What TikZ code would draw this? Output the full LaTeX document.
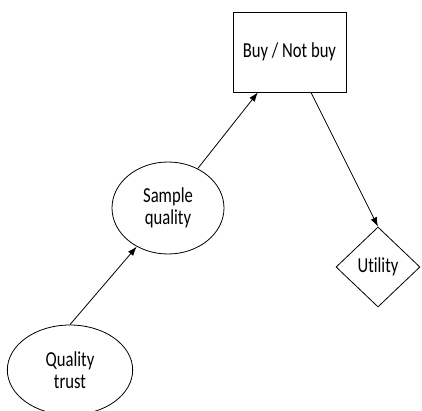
\documentclass[tikz,border=0pt]{standalone}
\usepackage{fontspec}
\setmainfont{Carlito}[FakeStretch=0.78, Ligatures=NoCommon]
\usetikzlibrary{shapes.geometric,arrows.meta}
\begin{document}
\begin{tikzpicture}[x=0.75pt, y=-0.75pt, >={Latex[length=7pt,width=5pt]}, line width=0.6pt, font=\fontsize{16}{16.5}\selectfont]
  \tikzstyle{chance} = [ellipse, draw, text centered, align=center, inner sep=0pt]
  \tikzstyle{decision} = [rectangle, draw, text centered, minimum width=84.75pt, minimum height=60pt]
  \tikzstyle{utility} = [diamond, draw, text centered, inner sep=1pt, minimum width=63pt, minimum height=60pt]

  \useasboundingbox (0,0) rectangle (422,411);

  \node [chance, minimum width=94pt, minimum height=67.5pt] (trust) at (70,370) {Quality\\trust};
  \node [chance, right of=trust, node distance=73.5pt, yshift=121.5pt, minimum width=84pt, minimum height=69pt] (sample) {Sample\\quality};
  \node [decision, right of=sample, node distance=91.1pt, yshift=117pt] (buy) {Buy / Not buy};
  \node [utility, right of=buy, node distance=66.4pt, yshift=-161.25pt] (util) {Utility};

  \draw[->] (trust.north) -- (sample.231);
  \draw[->] (sample.53) -- (buy.232);
  \draw[->] (buy.298) -- (util.north);
\end{tikzpicture}
\end{document}
